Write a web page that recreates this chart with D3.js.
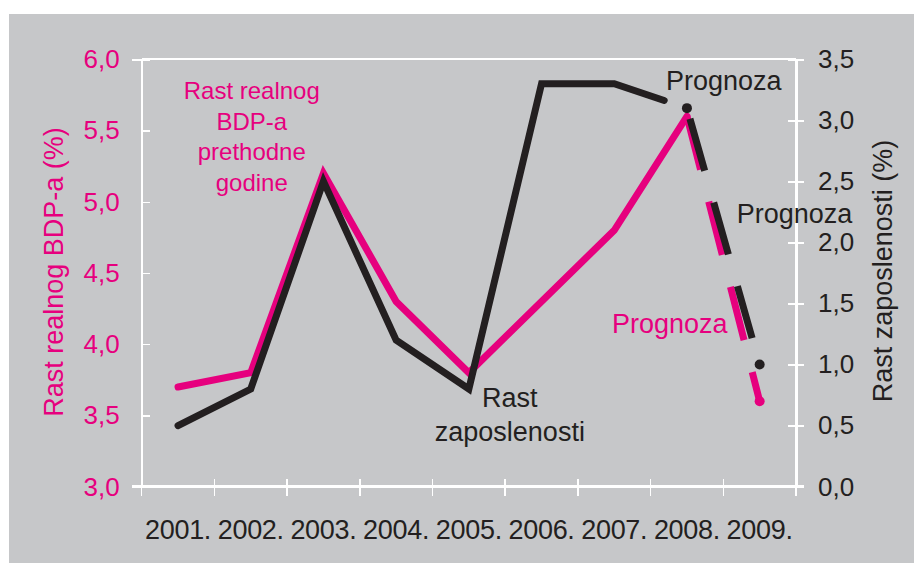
<!DOCTYPE html>
<meta charset="utf-8">
<style>
  body {
    margin: 0;
    background-color: white;
  }

  text {
    font-family: "Liberation Sans", Arial, sans-serif;
  }

  .frame line,
  .axis path,
  .axis line {
    stroke: #fff;
    shape-rendering: crispEdges;
  }
</style>

<body>
  <div id="content"></div>

  <script src="https://cdn.jsdelivr.net/npm/d3@7"></script>

  <script>
    // chart data
    var years = ["2001", "2002", "2003", "2004", "2005", "2006", "2007", "2008", "2009"];
    var bdp = [3.7, 3.8, 5.2, 4.3, 3.8, 4.3, 4.8, 5.6, 3.6];          // left axis, %
    var zaposlenost = [0.5, 0.8, 2.5, 1.2, 0.8, 3.3, 3.3, 3.1, 1.0];  // right axis, %
    var forecastFrom = 7; // index of 2008, dashed part starts here
    var leftTicks = [3.0, 3.5, 4.0, 4.5, 5.0, 5.5, 6.0];
    var rightTicks = [0.0, 0.5, 1.0, 1.5, 2.0, 2.5, 3.0, 3.5];

    var pink = "#e6007e",
      dark = "#231f20",
      grey = "#c6c7c9";

    var width = 914,
      height = 563;
    var margin = { top: 59.3, right: 118, bottom: 76.3, left: 141.7 };

    var svg = d3.select("#content").append("svg")
      .attr("width", width)
      .attr("height", height);

    svg.append("rect")
      .attr("x", 9).attr("y", 14)
      .attr("width", width - 9).attr("height", height - 14)
      .attr("fill", grey);

    var x = d3.scaleBand().domain(years)
      .range([margin.left, width - margin.right]);

    var yL = d3.scaleLinear().domain([3, 6])
      .range([height - margin.bottom, margin.top]);

    var yR = d3.scaleLinear().domain([0, 3.5])
      .range([height - margin.bottom, margin.top]);

    var comma = d => d3.format(".1f")(d).replace(".", ",");
    var cx = d => x(d) + x.bandwidth() / 2;

    // top frame line
    svg.append("g").attr("class", "frame")
      .append("line")
      .attr("x1", x.range()[0]).attr("x2", x.range()[1])
      .attr("y1", yL(6)).attr("y2", yL(6))
      .attr("stroke-width", 2);

    // left axis
    svg.append("g")
      .attr("class", "axis")
      .attr("transform", `translate(${margin.left},0)`)
      .call(d3.axisLeft(yL).tickValues(leftTicks).tickSize(10).tickPadding(12).tickFormat(comma))
      .call(g => g.select(".domain").attr("stroke-width", 2.5))
      .call(g => g.selectAll(".tick line").attr("x2", 8).attr("stroke-width", 1.5))
      .call(g => g.selectAll(".tick text")
        .attr("fill", pink)
        .attr("font-size", 26)
        .attr("font-family", "Liberation Sans, Arial, sans-serif"));

    // right axis
    svg.append("g")
      .attr("class", "axis")
      .attr("transform", `translate(${width - margin.right},0)`)
      .call(d3.axisRight(yR).tickValues(rightTicks).tickSize(8).tickPadding(14).tickFormat(comma))
      .call(g => g.select(".domain").attr("stroke-width", 2.5))
      .call(g => g.selectAll(".tick line").attr("x1", -8).attr("stroke-width", 1.5))
      .call(g => g.selectAll(".tick text")
        .attr("fill", dark)
        .attr("font-size", 26)
        .attr("font-family", "Liberation Sans, Arial, sans-serif"));

    // bottom axis: ticks on the band edges, labels in the middle
    var edges = years.map(d => x(d)).concat([x.range()[1]]);
    var xAxis = svg.append("g")
      .attr("class", "axis")
      .attr("transform", `translate(0,${height - margin.bottom})`);

    xAxis.append("line")
      .attr("x1", margin.left - 10).attr("x2", width - margin.right + 8)
      .attr("stroke-width", 2.5);

    xAxis.selectAll(".edge")
      .data(edges)
      .enter().append("line")
      .attr("class", "edge")
      .attr("x1", d => d).attr("x2", d => d)
      .attr("y1", -8).attr("y2", 9)
      .attr("stroke-width", 1.5);

    xAxis.selectAll(".year")
      .data(years)
      .enter().append("text")
      .attr("class", "year")
      .attr("x", cx)
      .attr("y", 52)
      .attr("text-anchor", "middle")
      .attr("font-size", 27)
      .attr("letter-spacing", -0.3)
      .attr("fill", dark)
      .text(d => d + ".");

    // axis titles
    svg.append("text")
      .attr("transform", `translate(63,272) rotate(-90)`)
      .attr("text-anchor", "middle")
      .attr("font-size", 27)
      .attr("fill", pink)
      .text("Rast realnog BDP-a (%)");

    svg.append("text")
      .attr("transform", `translate(892,271) rotate(-90)`)
      .attr("text-anchor", "middle")
      .attr("font-size", 27)
      .attr("fill", dark)
      .text("Rast zaposlenosti (%)");

    // lines
    var pinkLine = d3.line().x(d => cx(d.year)).y(d => yL(d.v));
    var darkLine = d3.line().x(d => cx(d.year)).y(d => yR(d.v));

    var bdpData = years.map((y, i) => ({ year: y, v: bdp[i] }));
    var zapData = years.map((y, i) => ({ year: y, v: zaposlenost[i] }));

    svg.append("path")
      .datum(bdpData.slice(0, forecastFrom + 1))
      .attr("d", pinkLine)
      .attr("fill", "none")
      .attr("stroke", pink)
      .attr("stroke-width", 7)
      .attr("stroke-linecap", "round")
      .attr("stroke-linejoin", "miter");

    svg.append("path")
      .datum(bdpData.slice(forecastFrom))
      .attr("d", pinkLine)
      .attr("fill", "none")
      .attr("stroke", pink)
      .attr("stroke-width", 7)
      .attr("stroke-dasharray", "55,33");

    svg.append("circle")
      .attr("cx", cx(years[8]))
      .attr("cy", yL(bdp[8]))
      .attr("r", 5)
      .attr("fill", pink);

    // solid employment line stops a little short of the 2008 dot
    var solid = svg.append("path")
      .datum(zapData.slice(0, forecastFrom + 1))
      .attr("d", darkLine)
      .attr("fill", "none")
      .attr("stroke", dark)
      .attr("stroke-width", 7)
      .attr("stroke-linecap", "round")
      .attr("stroke-linejoin", "miter");
    var len = solid.node().getTotalLength();
    solid.attr("stroke-dasharray", (len - 24) + ",1000");

    svg.append("path")
      .datum(zapData.slice(forecastFrom))
      .attr("d", darkLine)
      .attr("fill", "none")
      .attr("stroke", dark)
      .attr("stroke-width", 7)
      .attr("stroke-dasharray", "54,33")
      .attr("stroke-dashoffset", 76);

    svg.selectAll(".dot")
      .data(zapData.slice(forecastFrom))
      .enter().append("circle")
      .attr("class", "dot")
      .attr("cx", d => cx(d.year))
      .attr("cy", d => yR(d.v))
      .attr("r", 5)
      .attr("fill", dark);

    // annotations
    var note = function (lines, px, py, color, size, anchor, step) {
      var t = svg.append("text")
        .attr("font-size", size)
        .attr("fill", color)
        .attr("text-anchor", anchor);
      lines.forEach((s, i) => t.append("tspan")
        .attr("x", px).attr("y", py + i * step).text(s));
    };

    note(["Rast realnog", "BDP-a", "prethodne", "godine"], cx("2002") + 1, 99, pink, 24, "middle", 30.7);
    note(["Prognoza"], cx("2008") - 21, 90, dark, 27, "start", 0);
    note(["Prognoza"], cx("2009") - 23, 223, dark, 27, "start", 0);
    note(["Prognoza"], cx("2008") - 75, 333, pink, 27, "start", 0);
    note(["Rast", "zaposlenosti"], cx("2005") + 41, 407, dark, 27, "middle", 34);
  </script>
</body>

</html>
